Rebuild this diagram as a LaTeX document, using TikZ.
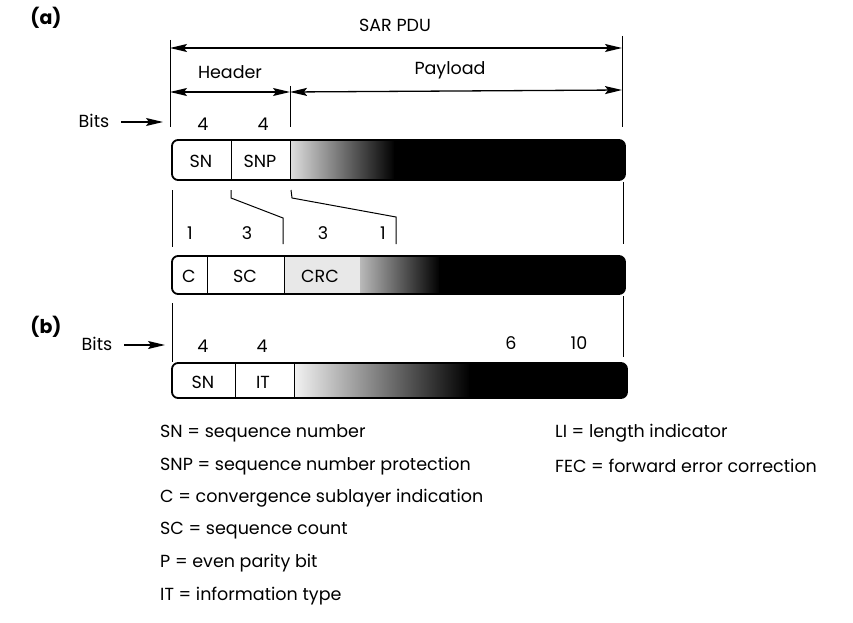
\documentclass[tikz,border=0pt]{standalone}
\usepackage{fontspec}
\setmainfont{Poppins}
\usetikzlibrary{arrows.meta}
\begin{document}
\begin{tikzpicture}[x=1pt,y=-1pt,
  lbl/.style={inner sep=0pt, font=\fontsize{17.5}{20}\selectfont},
  leg/.style={inner sep=0pt, anchor=west, font=\fontsize{17.5}{20}\selectfont},
  tag/.style={inner sep=0pt, font=\fontsize{19}{22}\selectfont\bfseries},
  dim/.style={line width=1.3pt, {Stealth[length=17pt,width=8pt,inset=3pt]}-{Stealth[length=17pt,width=8pt,inset=3pt]}},
  ptr/.style={line width=1.3pt, -{Stealth[length=17pt,width=8pt,inset=3pt]}},
  thin/.style={line width=1pt},
  bar/.style={line width=1.8pt, rounded corners=6pt},
  ]
\useasboundingbox (0,0) rectangle (853,623);

% ---------- (a) ----------
\node[tag] (ta) at (46,18) {(a)};
\node[lbl] (sar) at (395,25) {SAR PDU};
\coordinate (L1t) at (170,40); \coordinate (L1b) at (170,127);
\coordinate (R1t) at (622,36); \coordinate (R1b) at (622,127);
\coordinate (M1t) at (290,86); \coordinate (M1b) at (290,127);
\draw[thin] (L1t) -- (L1b);
\draw[thin] (R1t) -- (R1b);
\draw[thin] (M1t) -- (M1b);
\coordinate (s1) at (170,48); \coordinate (s2) at (622,48);
\draw[dim] (s1) -- (s2);
\node[lbl] (hdr) at (230,72) {Header};
\node[lbl] (pay) at (450,70) {Payload};
\coordinate (h1) at (170,92); \coordinate (h2) at (290,92);
\coordinate (p2) at (622,90);
\draw[dim] (h1) -- (h2);
\draw[dim] (h2) -- (p2);
\node[lbl] (bitsa) at (94,121) {Bits};
\coordinate (ba1) at (121,122); \coordinate (ba2) at (163,122);
\draw[ptr] (ba1) -- (ba2);
\node[lbl] (d1) at (203,124) {4};
\node[lbl] (d2) at (263,124) {4};

% bar 1
\begin{scope}
  \clip[rounded corners=6pt] (172,140) rectangle (625,180);
  \fill[white] (172,140) rectangle (290,180);
  \shade[left color=gray!25, right color=black] (290,140) rectangle (395,180);
  \fill[black] (394,140) rectangle (625,180);
\end{scope}
\draw[bar] (172,140) rectangle (625,180);
\draw[thin] (231,140) -- (231,180);
\draw[thin] (290,140) -- (290,180);
\node[lbl] (sn1) at (201,161) {SN};
\node[lbl] (snp) at (260,161) {SNP};

% expansion lines
\coordinate (e1) at (231,190); \coordinate (e2) at (231,198);
\coordinate (e3) at (283,218); \coordinate (e4) at (283,244);
\draw[thin] (e1) -- (e2) -- (e3) -- (e4);
\coordinate (f1) at (291,190); \coordinate (f2) at (292,198);
\coordinate (f3) at (396,217); \coordinate (f4) at (396,244);
\draw[thin] (f1) -- (f2) -- (f3) -- (f4);
\coordinate (L2t) at (172,190); \coordinate (L2b) at (172,247);
\coordinate (R2t) at (623,182); \coordinate (R2b) at (623,244);
\draw[thin] (L2t) -- (L2b);
\draw[thin] (R2t) -- (R2b);
\node[lbl] (g1) at (190,233) {1};
\node[lbl] (g2) at (247,233) {3};
\node[lbl] (g3) at (323,233) {3};
\node[lbl] (g4) at (383,233) {1};

% bar 2
\begin{scope}
  \clip[rounded corners=6pt] (172,256) rectangle (625,294);
  \fill[white] (172,256) rectangle (284,294);
  \fill[gray!18] (284,256) rectangle (360,294);
  \shade[left color=gray!55, right color=black] (360,256) rectangle (440,294);
  \fill[black] (439,256) rectangle (625,294);
\end{scope}
\draw[bar] (172,256) rectangle (625,294);
\draw[thin] (207,256) -- (207,294);
\draw[thin] (284,256) -- (284,294);
\node[lbl] (c) at (189,276) {C};
\node[lbl] (sc) at (245,276) {SC};
\node[lbl] (crc) at (320,276) {CRC};

% ---------- (b) ----------
\node[tag] (tb) at (46,327) {(b)};
\coordinate (L3t) at (172,303); \coordinate (L3b) at (172,362);
\coordinate (R3t) at (623,296); \coordinate (R3b) at (623,357);
\draw[thin] (L3t) -- (L3b);
\draw[thin] (R3t) -- (R3b);
\node[lbl] (bitsb) at (97,344) {Bits};
\coordinate (bb1) at (124,345); \coordinate (bb2) at (165,345);
\draw[ptr] (bb1) -- (bb2);
\node[lbl] (k1) at (203,346) {4};
\node[lbl] (k2) at (262,346) {4};
\node[lbl] (k3) at (511,343) {6};
\node[lbl] (k4) at (579,343) {10};

% bar 3
\begin{scope}
  \clip[rounded corners=6pt] (172,363) rectangle (627,398);
  \fill[white] (172,363) rectangle (294,398);
  \shade[left color=gray!10, right color=black] (294,363) rectangle (470,398);
  \fill[black] (469,363) rectangle (627,398);
\end{scope}
\draw[bar] (172,363) rectangle (627,398);
\draw[thin] (235,363) -- (235,398);
\draw[thin] (294,363) -- (294,398);
\node[lbl] (sn3) at (203,382) {SN};
\node[lbl] (it) at (263,382) {IT};

% ---------- legend ----------
\node[leg] (l1) at (160,433) {SN = sequence number};
\node[leg] (l2) at (160,466) {SNP = sequence number protection};
\node[leg] (l3) at (160,498) {C = convergence sublayer indication};
\node[leg] (l4) at (160,531) {SC = sequence count};
\node[leg] (l5) at (160,563) {P = even parity bit};
\node[leg] (l6) at (160,596) {IT = information type};
\node[leg] (r1) at (555,433) {LI = length indicator};
\node[leg] (r2) at (555,466) {FEC = forward error correction};
\end{tikzpicture}
\end{document}
